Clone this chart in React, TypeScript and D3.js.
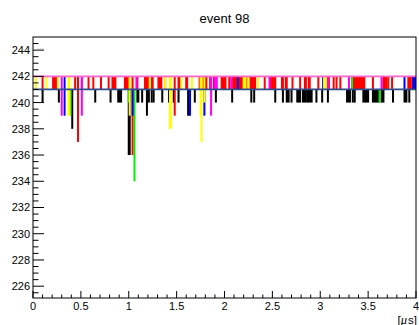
import { useEffect, useRef } from "react";
import * as d3 from "d3";

// bars: [t0 (us), t1 (us), low value, optional top value]
type Bar = [number, number, number, number?];

const title = "event 98";
const xTicks = [0, 0.5, 1, 1.5, 2, 2.5, 3, 3.5, 4];
const yTicks = [226, 228, 230, 232, 234, 236, 238, 240, 242, 244];
const pedestals: [number, string][] = [
  [242, "#ff66cc"],
  [241, "#2e4d8c"],
];

const blackBars: Bar[] = [
  [0.10, 0.10, 240], [0.27, 0.27, 240], [0.41, 0.41, 238], [0.65, 0.65, 240],
  [0.81, 0.81, 240], [0.89, 0.92, 240], [1.00, 1.01, 236], [1.09, 1.10, 240],
  [1.14, 1.14, 240], [1.19, 1.19, 239], [1.21, 1.21, 240], [1.24, 1.24, 240],
  [1.26, 1.26, 240], [1.35, 1.35, 240], [1.42, 1.42, 240], [1.47, 1.47, 240],
  [1.52, 1.52, 240], [1.62, 1.63, 239], [1.69, 1.69, 240], [1.91, 1.91, 240],
  [2.08, 2.08, 240], [2.28, 2.28, 240], [2.31, 2.31, 240], [2.53, 2.53, 240],
  [2.61, 2.61, 240], [2.65, 2.67, 240], [2.70, 2.70, 240], [2.76, 2.79, 240],
  [2.82, 2.85, 240], [2.87, 2.91, 240], [2.96, 2.96, 240], [3.02, 3.02, 240],
  [3.08, 3.08, 240], [3.28, 3.31, 240], [3.34, 3.34, 240], [3.36, 3.36, 240],
  [3.45, 3.50, 240], [3.55, 3.61, 240], [3.64, 3.66, 240], [3.76, 3.76, 240],
  [3.88, 3.90, 240], [3.93, 3.93, 240],
];

const redBars: Bar[] = [
  [0.10, 0.10, 241], [0.21, 0.25, 241], [0.44, 0.44, 241], [0.47, 0.47, 237],
  [0.51, 0.51, 241], [0.58, 0.58, 241], [0.63, 0.63, 241], [0.71, 0.71, 241],
  [0.79, 0.79, 241], [0.83, 0.86, 241], [0.96, 0.99, 241], [1.04, 1.04, 236],
  [1.09, 1.09, 241], [1.17, 1.20, 241], [1.24, 1.25, 241], [1.31, 1.34, 241],
  [1.38, 1.38, 241], [1.48, 1.48, 239], [1.52, 1.53, 241], [1.60, 1.61, 241],
  [1.74, 1.74, 241], [1.78, 1.81, 241], [1.85, 1.86, 241], [1.89, 1.90, 241],
  [1.97, 2.01, 241], [2.05, 2.05, 241], [2.09, 2.13, 241], [2.15, 2.20, 241],
  [2.23, 2.23, 241], [2.27, 2.32, 241], [2.42, 2.42, 241], [2.48, 2.53, 241],
  [2.60, 2.61, 241], [2.64, 2.65, 241], [2.71, 2.71, 241], [2.79, 2.79, 241],
  [2.84, 2.85, 241], [2.88, 2.89, 241], [2.98, 2.98, 241], [3.09, 3.09, 241],
  [3.14, 3.14, 241], [3.17, 3.17, 241], [3.21, 3.21, 241], [3.35, 3.46, 241],
  [3.55, 3.55, 241], [3.66, 3.69, 241], [3.71, 3.71, 241], [3.75, 3.75, 241],
  [3.92, 3.94, 241], [3.96, 3.96, 241],
];

const greenBars: Bar[] = [
  [0.39, 0.39, 239], [1.00, 1.00, 240], [1.06, 1.06, 234], [1.64, 1.64, 240],
  [3.33, 3.33, 241, 242], [3.62, 3.62, 240],
];

const blueBars: Bar[] = [
  [0.33, 0.33, 239, 242], [1.04, 1.04, 239], [1.64, 1.64, 239], [1.79, 1.79, 239],
  [2.14, 2.14, 241, 242], [3.03, 3.03, 241, 242], [3.88, 3.88, 241, 242],
  [3.97, 3.99, 241, 242],
];

const yellowBars: Bar[] = [
  [0.03, 0.03, 241], [0.14, 0.14, 241], [0.26, 0.26, 241], [0.37, 0.38, 239],
  [1.01, 1.01, 239], [1.22, 1.22, 241], [1.38, 1.38, 241], [1.43, 1.44, 238],
  [1.55, 1.55, 241], [1.66, 1.66, 241], [1.75, 1.75, 239], [1.76, 1.76, 237],
  [1.79, 1.79, 240], [2.20, 2.22, 241], [2.25, 2.25, 241], [2.35, 2.35, 241],
  [3.04, 3.06, 241],
];

const magentaBars: Bar[] = [
  [0.30, 0.30, 239], [0.51, 0.51, 239], [1.08, 1.08, 241], [1.86, 1.86, 239],
  [1.90, 1.92, 241], [2.07, 2.07, 241], [2.47, 2.47, 241], [3.08, 3.08, 241],
  [3.30, 3.30, 241], [3.64, 3.64, 241],
];

const channels = [
  { color: "#000000", base: 241, bars: blackBars },
  { color: "#ff0000", base: 242, bars: redBars },
  { color: "#00ee00", base: 241, bars: greenBars },
  { color: "#0000ff", base: 241, bars: blueBars },
  { color: "#ffff00", base: 242, bars: yellowBars },
  { color: "#ff00ff", base: 242, bars: magentaBars },
];

const App = () => {
  const svgRef = useRef<SVGSVGElement>(null);

  useEffect(() => {
    const width = 419;
    const height = 325;
    const left = 33, right = 416, top = 37, bottom = 298;
    const font = "'Liberation Sans', Arial, Helvetica, sans-serif";

    const x = d3.scaleLinear().domain([0, 4]).range([left, right]);
    const y = d3.scaleLinear().domain([225.1, 245]).range([bottom, top]);

    const svg = d3.select(svgRef.current)
      .attr("width", width)
      .attr("height", height);
    svg.selectAll("*").remove();

    svg.append("rect").attr("width", width).attr("height", height).attr("fill", "#fff");

    // title
    svg.append("text")
      .attr("x", (left + right) / 2)
      .attr("y", 22.5)
      .attr("text-anchor", "middle")
      .attr("font-family", font)
      .attr("font-size", 13)
      .text(title);

    // pulses
    const plot = svg.append("g");
    channels.forEach(ch => {
      plot.append("g")
        .attr("fill", ch.color)
        .selectAll("rect")
        .data(ch.bars)
        .join("rect")
        .attr("x", d => x(d[0]) - 1)
        .attr("width", d => Math.max(2, x(d[1]) - x(d[0]) + 2))
        .attr("y", d => y(d[3] ?? ch.base))
        .attr("height", d => y(d[2]) - y(d[3] ?? ch.base));
    });

    // pedestal lines
    plot.selectAll("line.ped")
      .data(pedestals)
      .join("line")
      .attr("x1", left)
      .attr("x2", right)
      .attr("y1", d => y(d[0]))
      .attr("y2", d => y(d[0]))
      .attr("stroke", d => d[1])
      .attr("stroke-width", 1.8);

    // small dots near top-left
    svg.append("text")
      .attr("x", 37)
      .attr("y", 51)
      .attr("font-family", font)
      .attr("font-size", 7)
      .attr("fill", "#999")
      .text("···");

    // frame
    svg.append("rect")
      .attr("x", left)
      .attr("y", top)
      .attr("width", right - left)
      .attr("height", bottom - top)
      .attr("fill", "none")
      .attr("stroke", "#000")
      .attr("stroke-width", 1);

    // y axis ticks
    const yMinor = d3.range(225.5, 245, 0.5);
    svg.append("g").selectAll("line")
      .data(yMinor)
      .join("line")
      .attr("x1", left)
      .attr("x2", d => left + (yTicks.includes(d) ? 11 : 5.5))
      .attr("y1", d => y(d))
      .attr("y2", d => y(d))
      .attr("stroke", "#000");

    svg.append("g").selectAll("text")
      .data(yTicks)
      .join("text")
      .attr("x", left - 3)
      .attr("y", d => y(d))
      .attr("dy", "0.36em")
      .attr("text-anchor", "end")
      .attr("font-family", font)
      .attr("font-size", 11)
      .text(d => String(d));

    // x axis ticks
    const xMinor = d3.range(0, 4.001, 0.1).map(v => +v.toFixed(1));
    svg.append("g").selectAll("line")
      .data(xMinor)
      .join("line")
      .attr("x1", d => x(d))
      .attr("x2", d => x(d))
      .attr("y1", bottom)
      .attr("y2", d => bottom - (xTicks.includes(d) ? 7 : 3.5))
      .attr("stroke", "#000");

    svg.append("g").selectAll("text")
      .data(xTicks)
      .join("text")
      .attr("x", d => x(d))
      .attr("y", 309.5)
      .attr("text-anchor", "middle")
      .attr("font-family", font)
      .attr("font-size", 11)
      .text(d => String(d));

    // axis title
    const unit = svg.append("text")
      .attr("x", 417)
      .attr("y", 323.5)
      .attr("text-anchor", "end")
      .attr("font-family", font)
      .attr("font-size", 11.5);
    unit.append("tspan").text("[");
    unit.append("tspan").attr("font-family", "'Liberation Serif', serif").attr("font-style", "italic").attr("font-size", 12.5).text("μ");
    unit.append("tspan").attr("dx", 1).text("s]");
  }, []);

  return (
    <svg ref={svgRef} style={{ position: "absolute", left: 0, top: 0, display: "block" }}></svg>
  );
};

export default App;
